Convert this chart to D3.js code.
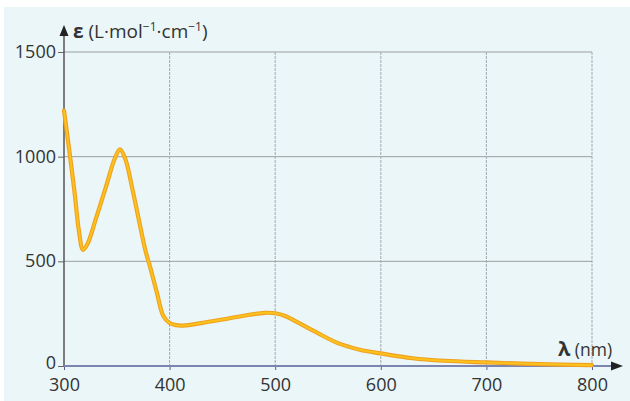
<!DOCTYPE html>
<html>
<head>
<meta charset="utf-8">
<script src="https://cdn.jsdelivr.net/npm/d3@7"></script>
<style>
  body { margin: 0; background: #fff; }
  svg { display: block; }
  text { font-family: "Open Sans", "DejaVu Sans", sans-serif; fill: #333; }
</style>
</head>
<body>
<div id="chart"></div>
<script>
// absorption spectrum
var wavelength = [300, 305, 310, 314, 318, 322, 330, 340, 348, 353, 358, 365, 370, 377, 382, 388, 394, 400, 406, 413, 430, 450, 470, 490, 500, 510, 520, 540, 560, 580, 600, 630, 660, 700, 750, 800];
var epsilon    = [1220, 1030, 830, 650, 555, 580, 700, 860, 990, 1035, 990, 840, 720, 554, 465, 350, 240, 205, 195, 193, 205, 222, 240, 254, 252, 238, 212, 158, 108, 78, 60, 37, 25, 17, 9, 4];

var xTicks = [300, 400, 500, 600, 700, 800];
var yTicks = [0, 500, 1000, 1500];

var W = 630, H = 401;
var m = {left: 64, right: 38, top: 52, bottom: 35};

var svg = d3.select('#chart').append('svg')
    .attr('width', W).attr('height', H);

// paper background
svg.append('rect').attr('x', 4).attr('y', 7).attr('width', W - 4).attr('height', H - 7)
    .attr('fill', '#eaf6f8');

var x = d3.scaleLinear().domain([300, 800]).range([m.left, W - m.right]);
var y = d3.scaleLinear().domain([0, 1500]).range([H - m.bottom, m.top]);

// grid
svg.append('g').selectAll('line').data(yTicks.slice(1)).join('line')
    .attr('x1', x(300)).attr('x2', x(800))
    .attr('y1', function (d) { return y(d); }).attr('y2', function (d) { return y(d); })
    .attr('stroke', '#9c9fa2').attr('stroke-width', 1);

svg.append('g').selectAll('line').data(xTicks.slice(1)).join('line')
    .attr('x1', function (d) { return x(d); }).attr('x2', function (d) { return x(d); })
    .attr('y1', y(1500)).attr('y2', y(0))
    .attr('stroke', '#a4a8b0').attr('stroke-width', 1)
    .attr('stroke-dasharray', '3,1');

// y axis
var yAxis = d3.axisLeft(y).tickValues(yTicks).tickSize(6).tickFormat(d3.format('d'));
var gy = svg.append('g').attr('transform', 'translate(' + m.left + ',0)').call(yAxis);
gy.select('.domain').remove();
gy.selectAll('.tick line').attr('stroke', '#666');
gy.selectAll('.tick text').attr('font-size', 18).attr('x', -8)
    .attr('dy', function (d) { return d === 0 ? '0.15em' : '0.3em'; });

svg.append('line')
    .attr('x1', m.left).attr('x2', m.left)
    .attr('y1', y(0)).attr('y2', 32)
    .attr('stroke', '#555').attr('stroke-width', 1.5);
svg.append('path')
    .attr('d', 'M' + (m.left - 4.5) + ',36 L' + m.left + ',25 L' + (m.left + 4.5) + ',36 Z')
    .attr('fill', '#222');

// x axis
var xAxis = d3.axisBottom(x).tickValues(xTicks).tickSize(4).tickFormat(d3.format('d'));
var gx = svg.append('g').attr('transform', 'translate(0,' + y(0) + ')').call(xAxis);
gx.select('.domain').remove();
gx.selectAll('.tick line').attr('stroke', '#5a5f9a');
gx.selectAll('.tick text').attr('font-size', 18).attr('y', 25).attr('dy', 0);

svg.append('line')
    .attr('x1', m.left).attr('x2', 614)
    .attr('y1', y(0)).attr('y2', y(0))
    .attr('stroke', '#7c84b0').attr('stroke-width', 2);
svg.append('path')
    .attr('d', 'M611,' + (y(0) - 4.5) + ' L623,' + y(0) + ' L611,' + (y(0) + 4.5) + ' Z')
    .attr('fill', '#222');

// curve
var pts = wavelength.map(function (w, i) { return [w, epsilon[i]]; });
var line = d3.line()
    .x(function (d) { return x(d[0]); })
    .y(function (d) { return y(d[1]); })
    .curve(d3.curveCatmullRom.alpha(0.5));

svg.append('path').datum(pts)
    .attr('d', line)
    .attr('fill', 'none')
    .attr('stroke', '#f0a020').attr('stroke-width', 4.2)
    .attr('stroke-linejoin', 'round').attr('stroke-linecap', 'round');
svg.append('path').datum(pts)
    .attr('d', line)
    .attr('fill', 'none')
    .attr('stroke', '#fbc21e').attr('stroke-width', 2)
    .attr('stroke-linejoin', 'round').attr('stroke-linecap', 'round');

// axis titles
var yl = svg.append('text').attr('x', 73).attr('y', 38).attr('font-size', 19);
yl.append('tspan').attr('font-weight', 'bold').text('ε');
yl.append('tspan').text(' (L·mol');
yl.append('tspan').attr('font-size', 12).attr('dy', -7).text('−1');
yl.append('tspan').attr('dy', 7).text('·cm');
yl.append('tspan').attr('font-size', 12).attr('dy', -7).text('−1');
yl.append('tspan').attr('dy', 7).text(')');

var xl = svg.append('text').attr('x', 558).attr('y', 356).attr('font-size', 17.5);
xl.append('tspan').attr('font-weight', 'bold').attr('font-size', 20).text('λ');
xl.append('tspan').text(' (nm)');
</script>
</body>
</html>
